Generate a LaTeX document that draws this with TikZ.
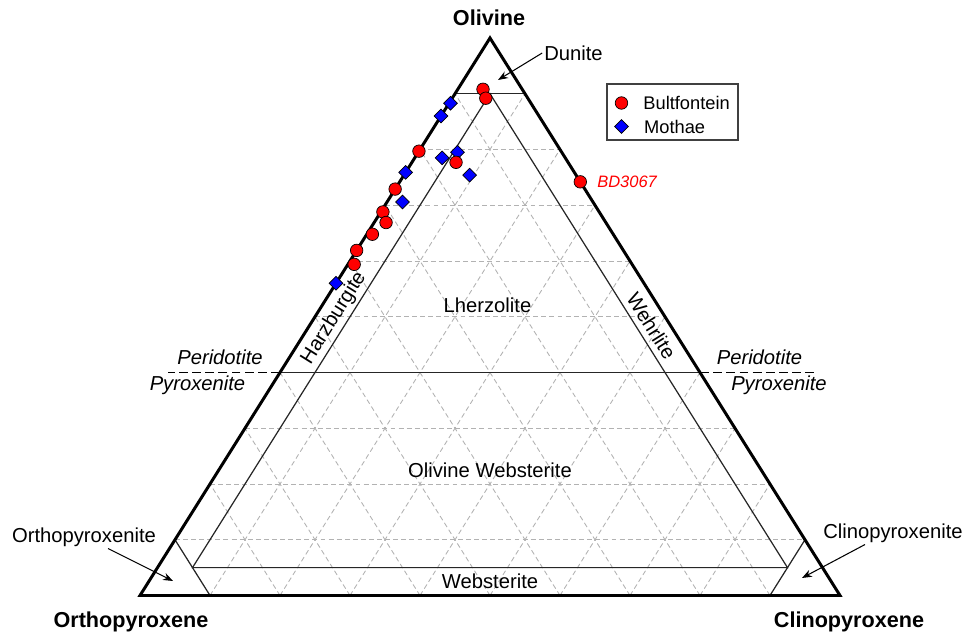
\documentclass[tikz,border=0pt]{standalone}
\usepackage{fontspec}
\setmainfont{Liberation Sans}
\usetikzlibrary{shapes.geometric, arrows.meta, positioning}
\definecolor{bultred}{RGB}{255,0,0}
\definecolor{mothblue}{RGB}{0,0,255}

\begin{document}
\begin{tikzpicture}[
    outline/.style={line width=1.7pt, line join=miter},
    field/.style={line width=0.7pt, black!85},
    gridline/.style={gray!60, line width=0.5pt, dash pattern=on 2.8pt off 1.8pt},
    divide/.style={line width=0.8pt, dash pattern=on 5pt off 2.5pt},
    rock/.style={font=\fontsize{11.5}{13}\selectfont, inner sep=1pt},
    sidelabel/.style={font=\fontsize{11.5}{13}\selectfont\itshape, inner sep=1pt},
    endmember/.style={font=\fontsize{12.3}{14}\selectfont\bfseries},
    sample/.style={font=\fontsize{9.4}{11}\selectfont\itshape, text=bultred, inner sep=0pt},
    bult/.style={circle, draw, thin, fill=bultred, minimum size=0.25cm, inner sep=0pt},
    moth/.style={diamond, draw, thin, fill=mothblue, minimum size=0.28cm, inner sep=0pt},
    arrow/.style={-{Stealth[length=2mm, width=1.5mm]}, line width=0.6pt},
    legbox/.style={draw=black!75, line width=0.6pt, minimum width=2.62cm, minimum height=1.12cm},
    legtext/.style={font=\fontsize{10.4}{12}\selectfont, inner sep=0pt},
    tern/.style={x={(14cm,0cm)}, y={(7cm,11.15cm)}}
]
\useasboundingbox (-2.8,-0.81) rectangle (16.5,11.91);

% ternary frame: (cpx, olivine) fractions
\begin{scope}[tern]
\coordinate (opx) at (0,0);
\coordinate (cpx) at (1,0);
\coordinate (ol) at (0,1);

% 10% grid
\begin{scope}
\clip (0,0.9) -- (0.1,0.9) -- (0.9,0.1) -- (0.9,0) -- (0.1,0) -- (0,0.1) -- cycle;
\foreach \k in {1,...,9} {
    \pgfmathsetmacro{\t}{\k/10}
    \draw[gridline] (0,\t) -- ({1-\t},\t);
    \draw[gridline] (\t,0) -- (\t,{1-\t});
    \draw[gridline] ({1-\t},0) -- (0,{1-\t});
}
\end{scope}

% field boundaries
\draw[field] (0,0.9) -- (0.1,0.9);
\draw[field] (0,0.4) coordinate (pl) -- (0.6,0.4) coordinate (pr);
\draw[field] (0.05,0.05) -- (0.05,0.9) -- (0.9,0.05) -- cycle;
\draw[field] (0,0.1) -- (0.1,0);
\draw[field] (0.9,0.1) -- (0.9,0);
\draw[outline] (opx) -- (cpx) -- (ol) -- cycle;

% samples
\foreach \c/\a [count=\i] in {0.002/0.883, 0.0/0.860, 0.056/0.795, 0.039/0.785,
    0.094/0.754, 0.0/0.759, 0.022/0.706, 0.0/0.560}
    \node[moth] (m\i) at (\c,\a) {};
\foreach \c/\a [count=\i] in {0.036/0.908, 0.048/0.892, 0.0/0.797, 0.063/0.777,
    0.0/0.729, 0.003/0.688, 0.017/0.669, 0.008/0.648, 0.0/0.619, 0.009/0.594}
    \node[bult] (b\i) at (\c,\a) {};
\node[bult] (bd3067) at (0.258,0.742) {};
\end{scope}

\draw[divide] (pl) -- ++(-2.24,0);
\draw[divide] (pr) -- ++(2.36,0);

\node[sample, right=0.2cm of bd3067] (bdname) {BD3067};

% end members
\node[endmember] (olname) at (6.98,11.55) {Olivine};
\node[endmember] (opxname) at (-0.18,-0.53) {Orthopyroxene};
\node[endmember] (cpxname) at (14.18,-0.53) {Clinopyroxene};

% rock names
\node[rock] (lherz) at (6.95,5.81) {Lherzolite};
\node[rock] (olweb) at (7.0,2.51) {Olivine Websterite};
\node[rock] (webst) at (7.0,0.28) {Websterite};
\node[rock, rotate=57.9] (harz) at (3.88,5.55) {Harzburgite};
\node[rock, rotate=-57.9] (wehr) at (10.23,5.39) {Wehrlite};
\node[sidelabel] (peril) at (1.6,4.77) {Peridotite};
\node[sidelabel] (pyrol) at (1.15,4.21) {Pyroxenite};
\node[sidelabel] (perir) at (12.39,4.77) {Peridotite};
\node[sidelabel] (pyror) at (12.78,4.21) {Pyroxenite};

\node[rock] (dunite) at (8.67,10.85) {Dunite};
\node[rock] (orthopx) at (-1.12,1.17) {Orthopyroxenite};
\node[rock] (clinopx) at (15.06,1.25) {Clinopyroxenite};
\coordinate (dunpt) at (7.16,10.31);
\coordinate (orthopt) at (0.66,0.29);
\coordinate (clinopt) at (13.24,0.35);
\draw[arrow] (dunite.west) -- (dunpt);
\draw[arrow] ([xshift=0.48cm]orthopx.south) -- (orthopt);
\draw[arrow] ([xshift=-0.56cm]clinopx.south) -- (clinopt);

% legend
\node[legbox] (legend) at (10.65,9.67) {};
\node[bult] (legb) at ([xshift=0.3cm, yshift=0.18cm]legend.west) {};
\node[moth] (legm) at ([xshift=0.3cm, yshift=-0.29cm]legend.west) {};
\node[legtext, right=0.3cm of legb] (legbname) {Bultfontein};
\node[legtext, right=0.3cm of legm] (legmname) {Mothae};
\end{tikzpicture}
\end{document}
